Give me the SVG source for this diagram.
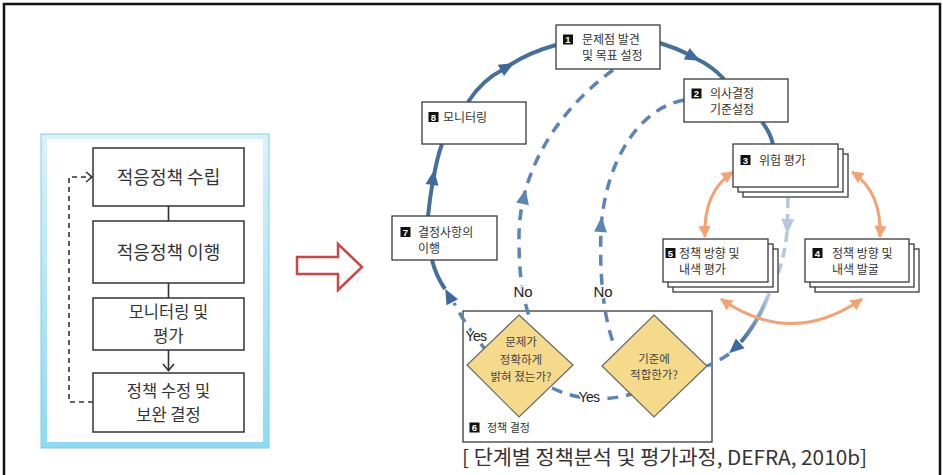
<svg xmlns="http://www.w3.org/2000/svg" xmlns:xlink="http://www.w3.org/1999/xlink" width="943" height="475" viewBox="0 0 943 475">
<defs>
<style>
.kr{font-family:"Noto Sans CJK KR","Noto Sans",sans-serif;fill:#333}
.lt{font-size:18px;text-anchor:middle}
.lt2{font-size:16.5px;text-anchor:middle}
.st{font-size:12px}
.dt{font-size:11.5px;text-anchor:middle;fill:#444}
.en{font-family:"Liberation Sans",Arial,sans-serif;fill:#222;stroke:#fff;stroke-width:3;paint-order:stroke;stroke-linejoin:round}
.lbox{fill:#fff;stroke:#333;stroke-width:1.5}
.box{fill:#fff;stroke:#3a3a3a;stroke-width:1.3}
.badge{fill:#111}
.bn{font-family:"Liberation Sans",Arial,sans-serif;font-size:9.5px;font-weight:bold;fill:#fff;text-anchor:middle}
.dia{fill:#f5da8c;stroke:#666;stroke-width:1.2}
.solid{fill:none;stroke:#45709e;stroke-width:4}
.dash{fill:none;stroke:#5a85b5;stroke-width:3.5;stroke-dasharray:11 8}
.ldash{fill:none;stroke:#b3c8df;stroke-width:3.5;stroke-dasharray:10 6}
.orange{fill:none;stroke:#f4a273;stroke-width:3;marker-start:url(#om);marker-end:url(#om)}
.lline{fill:none;stroke:#333;stroke-width:1.6}
</style>
<linearGradient id="pg" x1="0" y1="0" x2="0" y2="1">
<stop offset="0" stop-color="#d9f2fa"/>
<stop offset="1" stop-color="#8cdbf3"/>
</linearGradient>
<linearGradient id="fade" gradientUnits="userSpaceOnUse" x1="768" y1="296" x2="740" y2="343">
<stop offset="0" stop-color="#b3c8df"/>
<stop offset="1" stop-color="#3f6b9d"/>
</linearGradient>
<path id="tri" d="M8,0 L-7,-6.5 L-7,6.5 Z"/>
<marker id="om" viewBox="0 0 12 12" refX="11" refY="6" markerUnits="userSpaceOnUse" markerWidth="13" markerHeight="12" orient="auto-start-reverse">
<path d="M0,0 L12,6 L0,12 Z" fill="#f4a273"/>
</marker>
</defs>

<rect x="0" y="0" width="943" height="475" fill="#fff"/>
<path d="M4,475 V4 H940 V475" fill="none" stroke="#111" stroke-width="2.5"/>

<g id="panel">
<rect x="41" y="134" width="228" height="314" fill="url(#pg)" stroke="#86cbe0" stroke-width="1"/>
<rect x="47" y="139" width="216" height="303" fill="#fff"/>
</g>

<g id="red-arrow">
<polygon points="297,257 338,257 338,244 362,267 338,290 338,274 297,274" fill="#fff" stroke="#cc4646" stroke-width="2.5" stroke-linejoin="miter"/>
</g>

<g id="n6">
<rect x="463" y="311" width="249" height="131" fill="none" stroke="#3a3a3a" stroke-width="1.3"/>
<rect class="badge" x="469.5" y="422.5" width="10" height="10"/>
<text class="bn" x="474.5" y="431">6</text>
<text class="kr" font-size="11" x="487" y="432">정책 결정</text>
</g>

<g id="connectors">
<path class="lline" d="M168.5,206 V221 M168.5,283 V298 M168.5,350 V371"/>
<path class="lline" d="M163,364 L168.5,370.5 L174,364"/>
<path class="lline" d="M93,402 H69 V177 H91" stroke-dasharray="5 4"/>
<path class="lline" d="M86,172 L92,177 L86,182"/>

<path class="solid" d="M428,216 Q430,197 433,180"/>
<path class="solid" d="M434,176 Q437,158 442,144"/>
<use xlink:href="#tri" fill="#3d6a9e" transform="translate(433,178) rotate(-82)"/>

<path class="solid" d="M468,102 Q482,80 504,69"/>
<path class="solid" d="M508,66 Q530,52 556,45"/>
<use xlink:href="#tri" fill="#3d6a9e" transform="translate(507,67) rotate(-29)"/>

<path class="solid" d="M660,43 Q676,48 690,55"/>
<path class="solid" d="M695,58 Q712,66 724,79"/>
<use xlink:href="#tri" fill="#3d6a9e" transform="translate(693,57) rotate(27)"/>

<path class="solid" d="M762,122 Q770,132 773,144"/>

<path class="ldash" d="M788,198 L787.5,220"/>
<use xlink:href="#tri" fill="#b3c8df" transform="translate(787.5,226) rotate(92)"/>
<path class="ldash" d="M787,232 Q784,266 768,296"/>
<path d="M768,296 Q758,322 741,342" fill="none" stroke="url(#fade)" stroke-width="4"/>
<use xlink:href="#tri" fill="#3d6a9e" transform="translate(735,348) rotate(138)"/>
<path class="dash" d="M729,354 Q719,361 707,366" stroke="#4a77aa"/>

<path class="dash" d="M488,352 Q470,333 454,303" stroke="#6a8fbc"/>
<use xlink:href="#tri" fill="#3d6a9e" transform="translate(449,296) rotate(-118)"/>
<path class="solid" d="M445,289 Q436,276 432,260"/>

<path class="dash" d="M613,70 C565,105 518,165 519,240 C519,280 524,300 529,316"/>
<use xlink:href="#tri" fill="#5a85b5" transform="translate(524,197) rotate(-78)"/>
<path class="dash" d="M684,100 C640,108 605,160 601,230 C599,280 605,320 613,342"/>
<use xlink:href="#tri" fill="#5a85b5" transform="translate(601,225) rotate(-86)"/>

<path class="dash" d="M552,388 Q590,406 632,394" stroke="#7fa0c8" stroke-dasharray="14 6"/>

<path class="orange" d="M733,172 Q703,192 705,237"/>
<path class="orange" d="M852,172 Q882,192 880,237"/>
<path class="orange" d="M721,299 Q791,348 862,299"/>
</g>

<g id="l1">
<rect class="lbox" x="93" y="148" width="151" height="58"/>
<text class="kr lt" x="168.5" y="183.5">적응정책 수립</text>
</g>
<g id="l2">
<rect class="lbox" x="93" y="221" width="151" height="62"/>
<text class="kr lt" x="168.5" y="258.5">적응정책 이행</text>
</g>
<g id="l3">
<rect class="lbox" x="93" y="298" width="151" height="52"/>
<text class="kr lt2" x="168.5" y="318">모니터링 및</text>
<text class="kr lt2" x="168.5" y="342">평가</text>
</g>
<g id="l4">
<rect class="lbox" x="93" y="373" width="151" height="59"/>
<text class="kr lt2" x="168.5" y="396.5">정책 수정 및</text>
<text class="kr lt2" x="168.5" y="420.5">보완 결정</text>
</g>

<g id="n1">
<rect class="box" x="556" y="25" width="104" height="44"/>
<rect class="badge" x="563" y="34.5" width="10" height="10"/>
<text class="bn" x="568" y="43">1</text>
<text class="kr st" x="582" y="43.5">문제점 발견</text>
<text class="kr st" x="582" y="60">및 목표 설정</text>
</g>
<g id="n2">
<rect class="box" x="684" y="79" width="104" height="43"/>
<rect class="badge" x="691.5" y="88.5" width="10" height="10"/>
<text class="bn" x="696.5" y="97">2</text>
<text class="kr st" x="710" y="97.5">의사결정</text>
<text class="kr st" x="710" y="113.5">기준설정</text>
</g>
<g id="n3">
<rect class="box" x="743" y="154" width="105" height="43"/>
<rect class="box" x="738" y="149" width="105" height="43"/>
<rect class="box" x="733" y="144" width="105" height="43"/>
<rect class="badge" x="740.5" y="155" width="10" height="10"/>
<text class="bn" x="745.5" y="163.5">3</text>
<text class="kr st" x="759" y="164.5">위험 평가</text>
</g>
<g id="n5">
<rect class="box" x="673" y="249" width="105" height="43"/>
<rect class="box" x="668" y="244" width="105" height="43"/>
<rect class="box" x="663" y="239" width="105" height="43"/>
<rect class="badge" x="665.5" y="248" width="10" height="10"/>
<text class="bn" x="670.5" y="256.5">5</text>
<text class="kr st" x="679" y="257.5">정책 방향 및</text>
<text class="kr st" x="679" y="273.5">내색 평가</text>
</g>
<g id="n4">
<rect class="box" x="815" y="249" width="104" height="43"/>
<rect class="box" x="810" y="244" width="104" height="43"/>
<rect class="box" x="805" y="239" width="104" height="43"/>
<rect class="badge" x="812.5" y="248" width="10" height="10"/>
<text class="bn" x="817.5" y="256.5">4</text>
<text class="kr st" x="832" y="257.5">정책 방향 및</text>
<text class="kr st" x="832" y="273.5">내색 발굴</text>
</g>
<g id="n7">
<rect class="box" x="392" y="216" width="105" height="44"/>
<rect class="badge" x="400.5" y="227" width="10" height="10"/>
<text class="bn" x="405.5" y="235.5">7</text>
<text class="kr st" x="418" y="236.5">결정사항의</text>
<text class="kr st" x="418" y="252.5">이행</text>
</g>
<g id="n8">
<rect class="box" x="422" y="102" width="104" height="42"/>
<rect class="badge" x="428.5" y="112" width="10" height="10"/>
<text class="bn" x="433.5" y="120.5">8</text>
<text class="kr st" x="443" y="121.5">모니터링</text>
</g>

<g id="d1">
<polygon class="dia" points="519,315 573,365 519,417 467,365"/>
<text class="kr dt" x="521" y="346">문제가</text>
<text class="kr dt" x="521" y="364">정확하게</text>
<text class="kr dt" x="521" y="381">밝혀 졌는가?</text>
</g>
<g id="d2">
<polygon class="dia" points="654,315 707,366 654,417 602,366"/>
<text class="kr dt" x="654" y="363">기준에</text>
<text class="kr dt" x="654" y="379">적합한가?</text>
</g>

<g id="labels">
<text class="en" font-size="15" x="523" y="297" text-anchor="middle">No</text>
<text class="en" font-size="15" x="603" y="297" text-anchor="middle">No</text>
<text class="en" font-size="14" x="476" y="341" text-anchor="middle" letter-spacing="-0.6">Yes</text>
<text class="en" font-size="14" x="589" y="402" text-anchor="middle" letter-spacing="-0.6">Yes</text>
</g>

<g id="caption">
<text class="kr" font-size="20" fill="#222" x="462" y="465" textLength="405" lengthAdjust="spacingAndGlyphs">[ 단계별 정책분석 및 평가과정, DEFRA, 2010b]</text>
</g>
</svg>
